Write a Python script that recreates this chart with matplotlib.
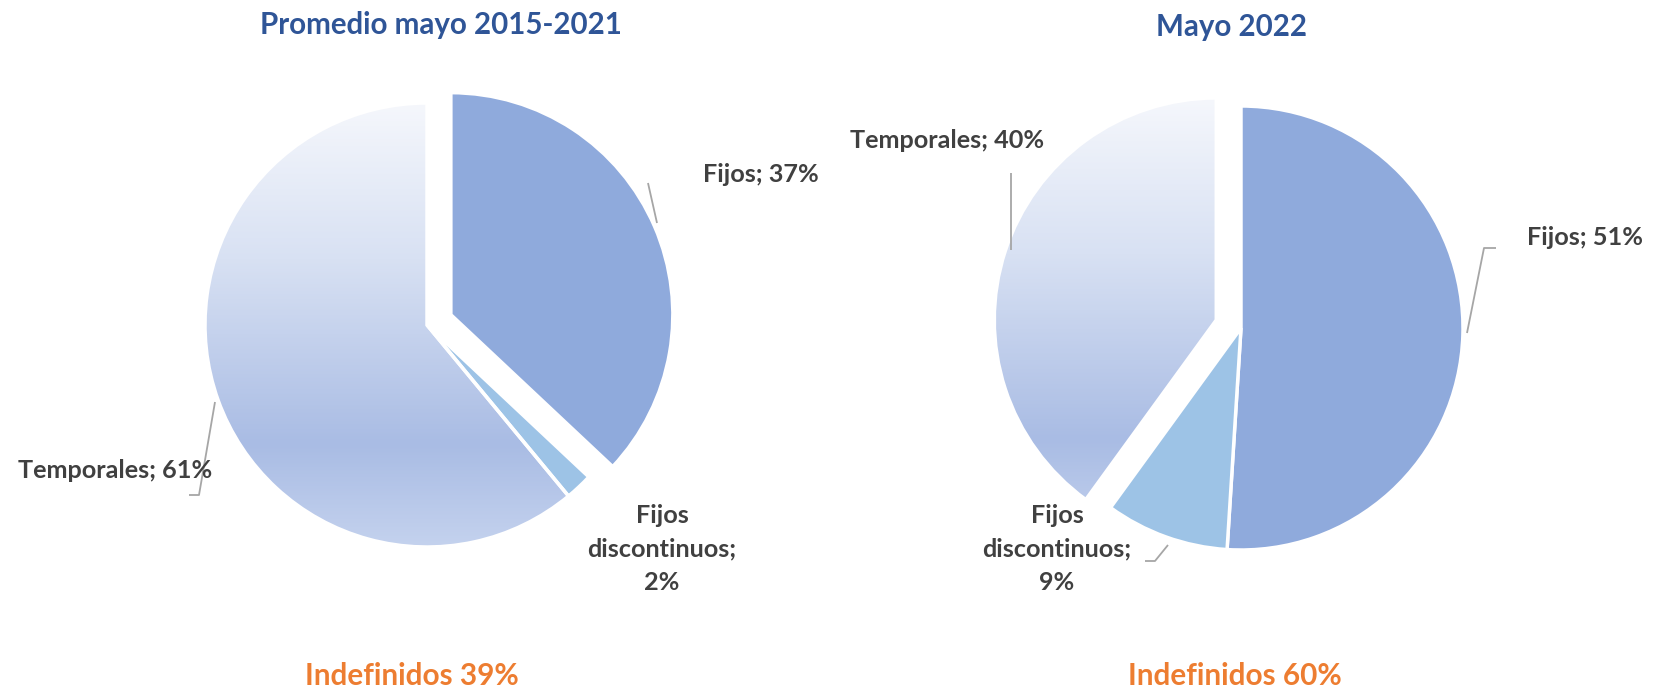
import numpy as np
import matplotlib
matplotlib.use('Agg')
import matplotlib.pyplot as plt
from matplotlib.colors import LinearSegmentedColormap

# ---- data ----
categories = ['Fijos', 'Fijos discontinuos', 'Temporales']
label_names = ['Fijos', 'Fijos\ndiscontinuos', 'Temporales']
values_2015_2021 = [37, 2, 61]
values_2022 = [51, 9, 40]
titles = ['Promedio mayo 2015-2021', 'Mayo 2022']
indefinidos = [39, 60]

# ---- style ----
W, H = 1653, 690
R = 222
EXPL = 26
FONT = ['Lato', 'DejaVu Sans']
TITLE_C = '#2F5597'
IND_C = '#ED7D31'
LAB_C = '#404040'
LINE_C = '#A6A6A6'
solid_colors = ['#8FAADC', '#9DC3E6', 'none']
grad = LinearSegmentedColormap.from_list(
    'temp', [(0.0, '#F5F7FC'), (0.35, '#D8E1F3'), (0.77, '#A9BCE4'), (1.0, '#C4D2EE')])

fig = plt.figure(figsize=(W / 100, H / 100), dpi=100)
ax = fig.add_axes([0, 0, 1, 1])


def Y(y_img):
    return H - y_img


def draw_pie(values, center_img, explode_idx):
    explode = [0, 0, 0]
    explode[explode_idx] = EXPL
    wedges, _ = ax.pie(values, colors=solid_colors, startangle=90, counterclock=False,
                       radius=R, center=(center_img[0], Y(center_img[1])), explode=explode,
                       wedgeprops=dict(edgecolor='white', linewidth=2.5), frame=False)
    tw = wedges[2]
    cx, cy = tw.center
    r = tw.r
    img = np.linspace(1, 0, 400).reshape(-1, 1)
    im = ax.imshow(img, cmap=grad, vmin=0, vmax=1, aspect='auto', origin='lower',
                   extent=(cx - r, cx + r, cy - r, cy + r), zorder=0.5)
    im.set_clip_path(tw)
    return wedges


draw_pie(values_2015_2021, (427, 325), 0)
draw_pie(values_2022, (1241, 328), 2)

ax.set_xlim(0, W)
ax.set_ylim(0, H)
ax.set_aspect('auto')
ax.axis('off')


def lab(i, values):
    return f"{label_names[i]}; {values[i]}%" if i != 1 else f"{label_names[i]};\n{values[i]}%"


kw = dict(family=FONT, fontweight='bold', color=LAB_C, fontsize=19)
labels = []
labels.append(ax.text(703, Y(182), lab(0, values_2015_2021), ha='left', va='baseline', **kw))
labels.append(ax.text(662, Y(590), lab(1, values_2015_2021), ha='center', va='baseline',
                      multialignment='center', linespacing=1.55, **kw))
labels.append(ax.text(18, Y(478), lab(2, values_2015_2021), ha='left', va='baseline', **kw))
labels.append(ax.text(1527, Y(245), lab(0, values_2022), ha='left', va='baseline', **kw))
labels.append(ax.text(1057, Y(590), lab(1, values_2022), ha='center', va='baseline',
                      multialignment='center', linespacing=1.55, **kw))
labels.append(ax.text(850, Y(148), lab(2, values_2022), ha='left', va='baseline', **kw))

t1 = ax.text(441, Y(34), titles[0], ha='center', va='baseline', family=FONT,
             fontweight='bold', color=TITLE_C, fontsize=22)
t2 = ax.text(1232, Y(36), titles[1], ha='center', va='baseline', family=FONT,
             fontweight='bold', color=TITLE_C, fontsize=22)
b1 = ax.text(412, Y(685), f"Indefinidos {indefinidos[0]}%", ha='center', va='baseline',
             family=FONT, fontweight='bold', color=IND_C, fontsize=22)
b2 = ax.text(1235, Y(685), f"Indefinidos {indefinidos[1]}%", ha='center', va='baseline',
             family=FONT, fontweight='bold', color=IND_C, fontsize=22)

# fit font sizes to reference widths
rend = fig.canvas.get_renderer()


def fit(group, ref, target):
    w = ref.get_window_extent(rend).width
    s = ref.get_fontsize() * target / w
    for t in group:
        t.set_fontsize(s)


fit(labels, labels[2], 194)
fit([t1, t2], t1, 362)
fit([b1, b2], b1, 214)

# leader lines
lk = dict(color=LINE_C, lw=1.3, solid_capstyle='butt')
ax.plot([648, 657], [Y(183), Y(223)], **lk)
ax.plot([189, 199, 215], [Y(495), Y(495), Y(402)], **lk)
ax.plot([1011, 1011], [Y(173), Y(250)], **lk)
ax.plot([1496, 1484, 1467], [Y(248), Y(248), Y(333)], **lk)
ax.plot([1145, 1155, 1168], [Y(561), Y(561), Y(545)], **lk)

fig.savefig('out.png', dpi=100, facecolor='white')
